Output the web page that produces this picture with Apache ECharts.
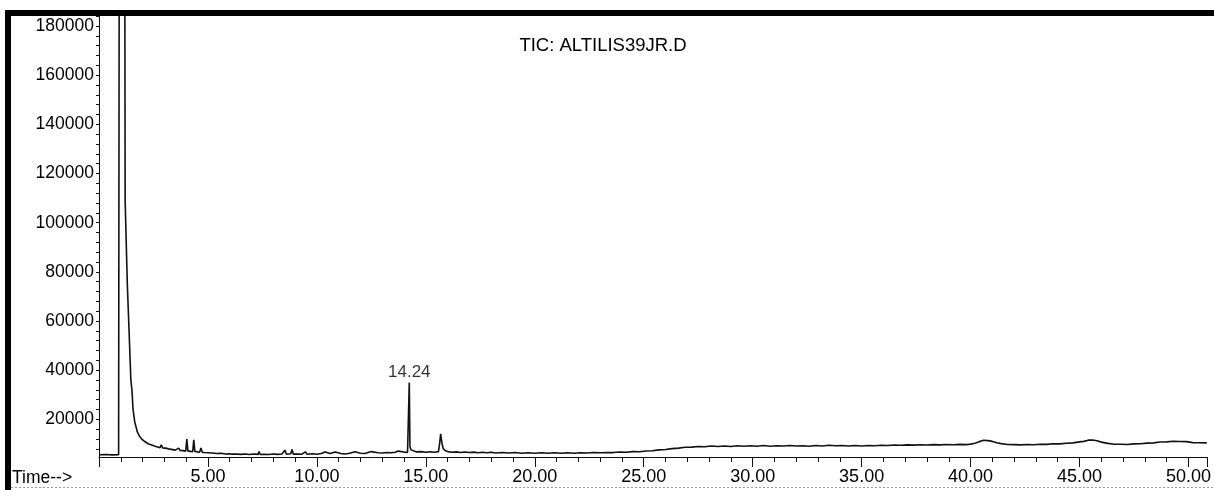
<!DOCTYPE html>
<html>
<head>
<meta charset="utf-8">
<script src="https://cdn.jsdelivr.net/npm/echarts@6/dist/echarts.min.js"></script>
<style>
html,body{margin:0;padding:0;background:#fff;}
#chart{width:1214px;height:490px;}
</style>
</head>
<body>
<div id="chart"></div>
<script>
// ---- data (retention time in min, abundance) ----
const solventRegion = [
  [0.00,5600],[0.30,5700],[0.60,5550],[0.90,5650],[0.95,5650],[0.98,600000],[1.185,200000],
  [1.20,109000],[1.30,75000],[1.38,56000],[1.46,36500],[1.52,31000],[1.56,24300],[1.64,19000],
  [1.76,14900],[1.85,13300],[1.95,12100],[2.10,11000],[2.25,10100],[2.45,9500],[2.60,9000],
  [2.70,8800],[2.80,8500],[2.86,9700],[2.92,8400],[3.05,8300],[3.13,9000],[3.20,8000],
  [3.32,7800],[3.50,7500],[3.66,8300],[3.72,7400],[3.85,7300],[3.98,7100],[4.03,12000],
  [4.08,7200],[4.20,7000],[4.30,6900],[4.35,11700],[4.40,7000],[4.50,6800],[4.62,6700],
  [4.68,8400],[4.74,6600],[4.85,6500],[5.00,6450]
];
const earlyBaseline = [
  [5.2,6350],[5.4,6100],[5.6,6200],[5.8,5950],[6.0,6050],[6.05,6700],[6.1,5850],[6.3,5950],
  [6.5,5750],[6.7,5900],[6.9,5700],[7.1,5900],[7.3,5750],[7.34,6900],[7.4,5700],[7.6,5850],
  [7.8,5700],[8.0,5900],[8.2,5750],[8.4,5950],[8.53,7500],[8.6,5800],[8.8,6000],[8.86,7800],
  [8.92,5850],[9.1,5950],[9.3,5800],[9.47,6800],[9.55,5850],[9.8,6050],[10.0,5850],[10.2,6100],
  [10.38,6700],[10.45,5900],[10.6,6100],[10.84,6750],[10.9,5950],[11.1,6150],[11.3,5950],
  [11.5,6200],[11.75,6850],[11.82,6050],[12.0,6250],[12.2,6100],[12.5,6900],[12.58,6200],
  [12.8,6400],[13.0,6300],[13.2,6550],[13.4,6400],[13.6,6650],[13.72,7100],[13.8,6500],
  [14.0,6700],[14.16,6600]
];
const peakRegion = [
  [14.21,7200],[14.24,35000],[14.27,9000],[14.32,7600],[14.40,7100],[14.55,6800],[14.8,6900],
  [15.0,6650],[15.2,6850],[15.4,6650],[15.58,6900],[15.63,10000],[15.68,14100],[15.73,10800],
  [15.79,8300],[15.88,7300],[16.0,6900],[16.2,6650]
];
const lateBaseline = [
  [16.4,6800],[16.6,6550],[16.8,6750],[17.0,6500],[17.2,6700],[17.4,6450],[17.6,6650],[17.8,6400],
  [18.0,6600],[18.2,6350],[18.5,6550],[18.8,6300],[19.1,6500],[19.4,6250],[19.7,6450],[20.0,6250],
  [20.3,6450],[20.6,6200],[20.9,6400],[21.2,6200],[21.5,6450],[21.8,6250],[22.1,6400],[22.4,6300],
  [22.7,6500],[23.0,6400],[23.3,6550],[23.6,6500],[23.9,6750],[24.2,6650],[24.5,6900],[24.8,6850],
  [25.1,7150],[25.4,7250],[25.7,7600],[26.0,7750],[26.3,8100],[26.6,8300],[26.9,8650],[27.2,8700],
  [27.5,8950],[27.8,8900],[28.1,9150],[28.4,8950],[28.7,9200],[29.0,9000],[29.3,9250],[29.6,9050],
  [29.9,9300],[30.2,9100],[30.5,9350],[30.8,9100],[31.1,9300],[31.4,9200],[31.7,9350],[32.0,9150],
  [32.3,9300],[32.6,9100],[32.9,9350],[33.2,9200],[33.5,9450],[33.8,9250],[34.1,9350],[34.4,9200],
  [34.7,9400],[35.0,9150],[35.3,9400],[35.6,9300],[35.9,9450],[36.2,9350],[36.5,9600],[36.8,9500],
  [37.1,9650],[37.4,9550],[37.7,9700],[38.0,9600],[38.3,9750],[38.6,9650],[38.9,9800],[39.2,9700],
  [39.5,9850],[39.8,9750],[40.0,9950],[40.2,10300],[40.4,10950],[40.6,11500],[40.8,11350],[41.0,11050],
  [41.2,10500],[41.4,10150],[41.7,9800],[42.0,9750],[42.3,9650],[42.6,9800],[42.9,9700],[43.2,9900],
  [43.5,9850],[43.8,10100],[44.1,10050],[44.4,10300],[44.7,10450],[45.0,10850],[45.2,11050],[45.4,11550],
  [45.6,11600],[45.8,11300],[46.0,10750],[46.3,10250],[46.6,9900],[46.9,9900],[47.2,9800],[47.5,10050],
  [47.8,10100],[48.1,10350],[48.4,10450],[48.7,10800],[49.0,10850],[49.3,11100],[49.6,11000],[49.9,10950],
  [50.2,10550],[50.5,10500],[50.84,10450]
];
const peakLabels = [[14.24, 35000, '14.24']];
const yLabelValues = [20000,40000,60000,80000,100000,120000,140000,160000,180000];
const yTickValues = [8000,12000,16000,20000,24000,28000,32000,36000,40000,44000,48000,52000,56000,
  60000,64000,68000,72000,76000,80000,84000,88000,92000,96000,100000,104000,108000,112000,116000,
  120000,124000,128000,132000,136000,140000,144000,148000,152000,156000,160000,164000,168000,
  172000,176000,180000,184000];
const chartTitle = 'TIC: ALTILIS39JR.D';
const xAxisName = 'Time-->';

const trace = solventRegion.concat(earlyBaseline, peakRegion, lateBaseline);
const FONT = '"Liberation Sans", Arial, sans-serif';

const chart = echarts.init(document.getElementById('chart'), null, {renderer: 'canvas'});
chart.setOption({
  animation: false,
  backgroundColor: '#ffffff',
  title: {
    text: chartTitle,
    left: 598, top: 31, textAlign: 'center',
    textStyle: {fontFamily: FONT, fontSize: 18.5, fontWeight: 'normal', color: '#000'}
  },
  grid: {left: 99, right: 0, top: 16, bottom: 33, containLabel: false},
  xAxis: {
    type: 'value', min: 0, max: 50.84, interval: 5,
    axisLine: {show: true, lineStyle: {color: '#111', width: 1}},
    axisTick: {show: true, length: 10, lineStyle: {color: '#111', width: 1}},
    minorTick: {show: true, splitNumber: 5, length: 5, lineStyle: {color: '#111', width: 1}},
    splitLine: {show: false},
    axisLabel: {
      margin: 11, color: '#000', fontFamily: FONT, fontSize: 18,
      showMaxLabel: false,
      formatter: v => (v === 0 ? '' : v.toFixed(2))
    }
  },
  yAxis: {
    type: 'value', min: 4700, max: 184100,
    axisLine: {show: true, lineStyle: {color: '#111', width: 1}},
    axisTick: {show: true, length: 3, customValues: yTickValues, lineStyle: {color: '#111', width: 1}},
    splitLine: {show: false},
    axisLabel: {
      margin: 5, color: '#000', fontFamily: FONT, fontSize: 17.5,
      customValues: yLabelValues,
      formatter: v => String(v)
    }
  },
  graphic: [
    {type: 'rect', shape: {x: 5, y: 10, width: 6, height: 480}, style: {fill: '#000'}},
    {type: 'rect', shape: {x: 5, y: 10, width: 1209, height: 6}, style: {fill: '#000'}},
    {type: 'line', shape: {x1: 11, y1: 487.5, x2: 1214, y2: 487.5},
      style: {stroke: '#9a9a9a', lineWidth: 1, lineDash: [2, 2]}},
    {type: 'text', x: 12, y: 478,
      style: {text: xAxisName, fontFamily: FONT, fontSize: 17.5, fill: '#000',
        textAlign: 'left', textVerticalAlign: 'middle'}}
  ],
  series: [
    {
      type: 'line',
      data: trace,
      showSymbol: false,
      clip: true,
      lineStyle: {color: '#111', width: 1.6},
      z: 3
    },
    {
      type: 'scatter',
      data: peakLabels.map(p => ({value: [p[0], p[1]], name: p[2]})),
      symbolSize: 1,
      itemStyle: {color: 'rgba(0,0,0,0)'},
      label: {show: true, position: 'top', distance: 1, formatter: p => p.name,
        fontFamily: FONT, fontSize: 17, color: '#000'},
      z: 4
    }
  ]
});
</script>
</body>
</html>
